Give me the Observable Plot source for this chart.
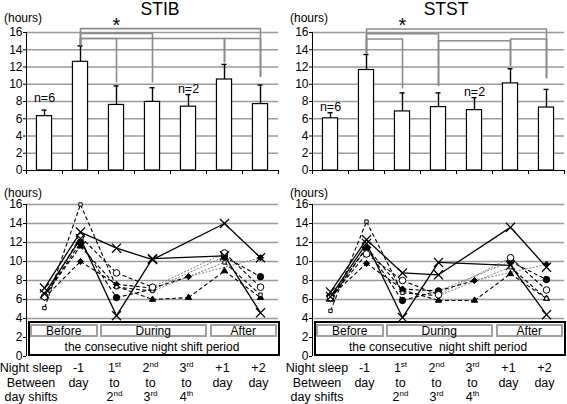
<!DOCTYPE html>
<html><head><meta charset="utf-8">
<script src="https://cdn.jsdelivr.net/npm/d3@7"></script>
<script src="https://cdn.jsdelivr.net/npm/@observablehq/plot@0.6"></script>
<style>
body{margin:0;background:#fff;font-family:"Liberation Sans",Arial,sans-serif;color:#000;}
#root{position:relative;width:567px;height:404px;overflow:hidden;background:#fff;}
#root svg{position:absolute;overflow:visible;}
.t{position:absolute;white-space:pre;line-height:1;transform:translate(-50%,-50%);}
.box{position:absolute;box-sizing:border-box;background:#fff;}
.sup{font-size:8px;vertical-align:5px;}
</style></head><body><div id="root"></div>
<script>
// ---------- data ----------
const categories = ["Night sleep", "-1 day", "1st to 2nd", "2nd to 3rd", "3rd to 4th", "+1 day", "+2 day"];
const stibMean = [6.3, 12.6, 7.6, 7.95, 7.4, 10.55, 7.7];
const stibErr  = [7.0, 14.45, 9.8, 9.6, 8.8, 12.3, 9.9];
const ststMean = [6.05, 11.65, 6.85, 7.35, 7.0, 10.1, 7.3];
const ststErr  = [6.7, 13.45, 9.0, 9.0, 8.45, 11.8, 9.4];
// brackets: [bar a, bar b, level, end at a, end at b]
const stibBrackets = [[1,6,16.45,14.6,10.9],[1,3,15.9,14.6,10.3],[1,2,15.3,14.6,10.3],[1,5,15.3,14.6,12.6],[5,6,15.3,12.6,10.9]];
const ststBrackets = [[1,6,16.4,13.6,10.75],[1,3,15.85,13.6,9.85],[1,2,15.25,13.6,9.6],[3,5,15.05,9.85,12.2],[5,6,15.25,12.2,10.75]];
const stibN = [{i:0, y:8.45, t:"n=6"}, {i:4, y:9.4, t:"n=2"}];
const ststN = [{i:0, y:7.35, t:"n=6"}, {i:4, y:9.05, t:"n=2"}];
// individual series (null = no value)
const stibX1 = [7.2, 13.1, 11.4, 10.2, null, 14.0, 10.4];
const stibX2 = [6.6, 12.4, 4.3, 10.3, null, 10.6, 4.6];
const stibSq = [5.1, 16.0, 7.3, 6.9, null, 9.9, 6.5];
const stibOc = [6.3, 12.6, 8.8, 7.3, null, 10.9, 7.3];
const stibFc = [6.3, 12.0, 6.2, 7.1, null, 10.5, 8.4];
const stibTr = [6.4, 11.6, 7.4, 6.0, 6.2, 9.0, 6.2];
const stibDi = [6.2, 10.0, 7.6, 7.2, 8.4, null, 10.4];
const ststX1 = [6.8, 12.3, 8.8, 8.6, null, 13.6, 9.4];
const ststX2 = [6.3, 11.9, 4.1, 9.9, null, 9.6, 4.4];
const ststSq = [4.8, 14.2, 6.7, 6.4, null, 9.4, 6.1];
const ststOc = [6.2, 10.8, 8.0, 6.5, null, 10.4, 7.0];
const ststFc = [6.2, 11.4, 5.9, 6.9, null, 10.0, 8.1];
const ststTr = [6.0, 11.5, 7.0, 5.9, 5.9, 8.7, 6.1];
const ststDi = [6.3, 9.8, 7.1, 6.9, 8.0, null, 9.7];
const yTicks = [0, 2, 4, 6, 8, 10, 12, 14, 16];
const row1 = [["Night sleep"], ["-1"], ["1","st"], ["2","nd"], ["3","rd"], ["+1"], ["+2"]];
const row2 = [["Between"], ["day"], ["to"], ["to"], ["to"], ["day"], ["day"]];
const row3 = [["day shifts"], [""], ["2","nd"], ["3","rd"], ["4","th"], [""], [""]];
const periods = ["Before", "During", "After"];

// ---------- helpers ----------
const root = document.getElementById("root");
const FONT = "'Liberation Sans', Arial, sans-serif";
function text(html, cx, cy, size){
  const d = document.createElement("div");
  d.className = "t"; d.innerHTML = html;
  d.style.left = cx + "px"; d.style.top = cy + "px"; d.style.fontSize = size + "px";
  root.appendChild(d); return d;
}
function box(l, t, w, h, border){
  const d = document.createElement("div");
  d.className = "box";
  Object.assign(d.style, {left:l+"px", top:t+"px", width:w+"px", height:h+"px", border});
  root.appendChild(d); return d;
}
function place(svg, left, top){ svg.style.left = left + "px"; svg.style.top = top + "px"; root.appendChild(svg); }
const style = {fontFamily: FONT, fontSize: "12px", color: "black", background: "transparent", overflow: "visible"};
const bounds = d3.range(-0.5, 7, 1);

function barChart(mean, err, brackets, nLabs, w, ml, mr){
  const data = mean.map((m, i) => ({i, m, e: err[i]}));
  const bp = brackets.flatMap(([a,b,l,e1,e2],k) => [{k,x:a,y:e1},{k,x:a,y:l},{k,x:b,y:l},{k,x:b,y:e2}]);
  return Plot.plot({
    width: w, height: 178, marginLeft: ml, marginRight: mr, marginTop: 32, marginBottom: 8,
    x: {domain: [-0.5, 6.5], axis: null}, y: {domain: [0, 16], axis: null}, style,
    marks: [
      Plot.ruleY(yTicks.filter(d => d > 0), {stroke: "#9a9a9a", strokeWidth: 1.3}),
      Plot.ruleY([0], {stroke: "black"}),
      Plot.ruleX([-0.5], {y1: 0, y2: 16, stroke: "black"}),
      Plot.axisY(yTicks, {tickSize: 3, tickPadding: 1, label: null, fontSize: 12}),
      Plot.axisX(bounds, {tickSize: 4, tickFormat: () => "", label: null}),
      Plot.ruleX(data, {x: "i", y1: "m", y2: "e", strokeWidth: 1.4}),
      Plot.ruleY(data, {y: "e", x1: d => d.i - 0.07, x2: d => d.i + 0.07, strokeWidth: 1.4}),
      Plot.rectY(data, {x1: d => d.i - 0.21, x2: d => d.i + 0.21, y1: 0, y2: "m", fill: "white", stroke: "black", strokeWidth: 1.2}),
      Plot.line(bp, {x: "x", y: "y", z: "k", stroke: "#8a8a8a", strokeWidth: 1.6}),
      Plot.text(nLabs, {x: "i", y: "y", text: "t", fontSize: 12.5}),
      Plot.text(["*"], {x: 2, y: 16.75, fontSize: 20})
    ]
  });
}

function lineChart(series, w, ml, mr){
  const segs = [], marks = [];
  series.forEach(s => {
    const pts = s.v.map((y, i) => ({i, y})).filter(d => d.y != null);
    for (let k = 1; k < pts.length; k++) {
      const a = pts[k-1], b = pts[k];
      segs.push({x1: a.i, y1: a.y, x2: b.i, y2: b.y, kind: s.solid ? "solid" : (b.i - a.i > 1 ? "gap" : "dash")});
    }
  });
  const lk = k => segs.filter(d => d.kind === k);
  marks.push(
    Plot.ruleY(yTicks.filter(d => d >= 4), {stroke: "#9a9a9a", strokeWidth: 1.3}),
    Plot.ruleX([-0.5], {y1: 0, y2: 16, stroke: "black"}),
    Plot.axisY(yTicks, {tickSize: 3, tickPadding: 1, label: null, fontSize: 12}),
    Plot.link(lk("gap"), {x1: "x1", y1: "y1", x2: "x2", y2: "y2", stroke: "#808080", strokeWidth: 1, strokeDasharray: "2,1.5"}),
    Plot.link(lk("dash"), {x1: "x1", y1: "y1", x2: "x2", y2: "y2", stroke: "black", strokeWidth: 1.1, strokeDasharray: "4,2.5"}),
    Plot.link(lk("solid"), {x1: "x1", y1: "y1", x2: "x2", y2: "y2", stroke: "black", strokeWidth: 1.3})
  );
  series.forEach(s => {
    const pts = s.v.map((y, i) => ({i, y})).filter(d => d.y != null);
    marks.push(Plot.dot(pts, {x: "i", y: "y", symbol: s.sym, r: s.r, fill: s.fill, stroke: "black", strokeWidth: s.sw || 1}));
  });
  return Plot.plot({
    width: w, height: 175, marginLeft: ml, marginRight: mr, marginTop: 19, marginBottom: 4,
    x: {domain: [-0.5, 6.5], axis: null}, y: {domain: [0, 16], axis: null}, style, marks
  });
}
function seriesOf(x1, x2, sq, oc, fc, tr, di){
  return [
    {v: tr, sym: "triangle", r: 2.3, fill: "black"},
    {v: di, sym: "diamond2", r: 2.8, fill: "black"},
    {v: fc, sym: "circle", r: 3.2, fill: "black"},
    {v: sq, sym: "square", r: 1.9, fill: "white"},
    {v: oc, sym: "circle", r: 3.3, fill: "white"},
    {v: x2, sym: "times", r: 4.2, fill: "none", solid: true, sw: 1.3},
    {v: x1, sym: "times", r: 4.2, fill: "none", solid: true, sw: 1.3}
  ];
}

// ---------- panels ----------
const panels = [
  {left: 0, w: 283, ml: 26, mr: 5, title: "STIB", mean: stibMean, err: stibErr, br: stibBrackets, n: stibN,
   s: seriesOf(stibX1, stibX2, stibSq, stibOc, stibFc, stibTr, stibDi), caption: "the consecutive night shift period"},
  {left: 285, w: 282, ml: 27, mr: 3, title: "STST", mean: ststMean, err: ststErr, br: ststBrackets, n: ststN,
   s: seriesOf(ststX1, ststX2, ststSq, ststOc, ststFc, ststTr, ststDi), caption: "the consecutive  night shift period"}
];

panels.forEach(p => {
  const bar = barChart(p.mean, p.err, p.br, p.n, p.w, p.ml, p.mr);
  place(bar, p.left, 0);
  const line = lineChart(p.s, p.w, p.ml, p.mr);
  place(line, p.left, 185);
  const sx = v => p.left + line.scale("x").apply(v);
  const ox = sx(-0.5);
  text(p.title, ox + 134, 10, 17.5);
  text("(hours)", ox - 3, 17.5, 12);
  text("(hours)", ox - 3, 192.5, 12);
  // period box
  box(ox + 2, 321, 251.5, 35, "2.5px solid black");
  const inner = [[4, 71.5], [73.5, 181], [183.5, 251]];
  inner.forEach(([a, b], k) => {
    box(ox + a, 323.8, b - a, 13.2, "2px solid #a0a0a0");
    text(periods[k], ox + (a + b) / 2, 330.6, 12);
  });
  text(p.caption, ox + 126, 346.7, 12);
  // category labels
  const fmt = c => c[0] + (c[1] ? '<span class="sup">' + c[1] + '</span>' : "");
  categories.forEach((c, i) => {
    const cx = i === 0 ? sx(0) - 13 : sx(i) - 1.5;
    text(fmt(row1[i]), cx, 368.3, 12.5);
    text(fmt(row2[i]), cx, 382.7, 12.5);
    text(fmt(row3[i]), cx, 396.7, 12.5);
  });
});
</script></body></html>
